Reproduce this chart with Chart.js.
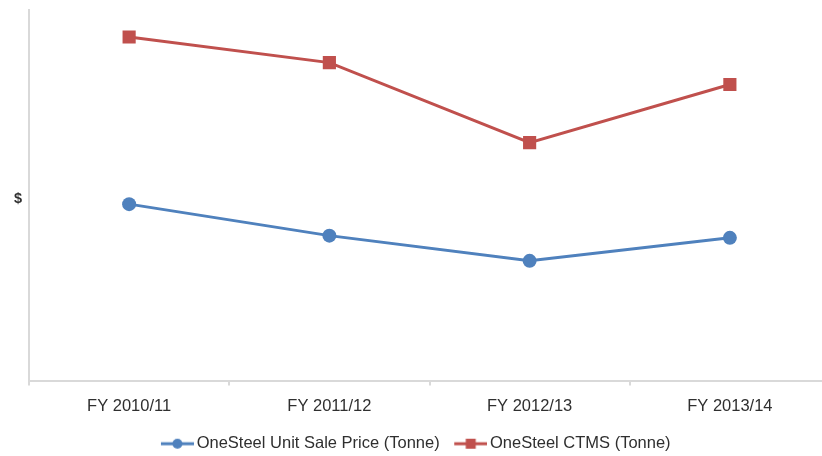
<!DOCTYPE html>
<html>
<head>
<meta charset="utf-8">
<script src="https://cdn.jsdelivr.net/npm/chart.js@4/dist/chart.umd.min.js"></script>
<style>
  html, body { margin: 0; padding: 0; background: #ffffff; overflow: hidden; }
  canvas { display: block; }
</style>
</head>
<body>
<canvas id="chart" width="830" height="456"></canvas>
<script>
// Financial years on the category axis
const categories = ['FY 2010/11', 'FY 2011/12', 'FY 2012/13', 'FY 2013/14'];
// Per-tonne figures ($)
const unitSalePrice = [476, 391, 323, 385];
const ctmsCost = [927, 858, 642, 799];
// Single labelled tick on the value axis
const yTickValues = [490];
const yTickLabels = ['$'];

const BLUE = '#4f81bd';
const RED = '#c0504d';
const TEXT = '#2f2f2f';
const AXIS = '#d9d9d9';
const FONT = '"Liberation Sans", Arial, sans-serif';

// Legend swatch: a short line with the series marker in its middle.
// The transparent strip on the left spaces the two legend entries apart.
function legendSwatch(color, shape) {
  const c = document.createElement('canvas');
  c.width = 52; c.height = 14;
  const g = c.getContext('2d');
  g.strokeStyle = color; g.lineWidth = 3;
  g.beginPath(); g.moveTo(19, 7); g.lineTo(52, 7); g.stroke();
  g.fillStyle = color;
  if (shape === 'circle') {
    g.beginPath(); g.arc(35.5, 7, 5, 0, Math.PI * 2); g.fill();
  } else {
    g.fillRect(30.5, 2, 10, 10);
  }
  return c;
}
const swatches = [legendSwatch(BLUE, 'circle'), legendSwatch(RED, 'rect')];

new Chart(document.getElementById('chart'), {
  type: 'line',
  data: {
    labels: categories,
    datasets: [
      {
        label: 'OneSteel Unit Sale Price (Tonne)',
        data: unitSalePrice,
        borderColor: BLUE,
        backgroundColor: BLUE,
        borderWidth: 3,
        pointStyle: 'circle',
        pointRadius: 7,
        pointBorderWidth: 0,
        tension: 0
      },
      {
        label: 'OneSteel CTMS (Tonne)',
        data: ctmsCost,
        borderColor: RED,
        backgroundColor: RED,
        borderWidth: 3,
        pointStyle: 'rect',
        pointRadius: 9.3,
        pointBorderWidth: 0,
        tension: 0
      }
    ]
  },
  options: {
    responsive: false,
    animation: false,
    layout: { autoPadding: false, padding: { top: 10, left: -12, right: 0, bottom: -6 } },
    plugins: {
      tooltip: { enabled: false },
      legend: {
        position: 'bottom',
        labels: {
          usePointStyle: true,
          pointStyleWidth: 41,
          boxHeight: 14,
          padding: 1,
          color: TEXT,
          font: { family: FONT, size: 16.5 },
          generateLabels(chart) {
            const items = Chart.defaults.plugins.legend.labels.generateLabels(chart);
            items.forEach((it, i) => { it.pointStyle = swatches[i]; });
            return items;
          }
        }
      }
    },
    scales: {
      x: {
        offset: true,
        grid: {
          display: true,
          drawOnChartArea: false,
          drawTicks: true,
          tickLength: 5,
          color: AXIS,
          lineWidth: 2,
          offset: true
        },
        border: { display: true, color: AXIS, width: 2 },
        ticks: {
          color: TEXT,
          padding: 11,
          maxRotation: 0,
          font: { family: FONT, size: 16.5 }
        },
        afterFit(scale) { scale.height = 54; }
      },
      y: {
        min: 0,
        max: 1000,
        grid: { display: false, drawTicks: false },
        border: { display: true, color: AXIS, width: 2 },
        afterBuildTicks(scale) {
          scale.ticks = yTickValues.map(v => ({ value: v }));
        },
        ticks: {
          color: TEXT,
          padding: 7,
          font: { family: FONT, size: 14.5, weight: 'bold', lineHeight: 0.4 },
          callback(value) {
            const i = yTickValues.indexOf(value);
            return i >= 0 ? yTickLabels[i] : '';
          }
        },
        afterFit(scale) { scale.width = 41; }
      }
    }
  }
});
</script>
</body>
</html>
